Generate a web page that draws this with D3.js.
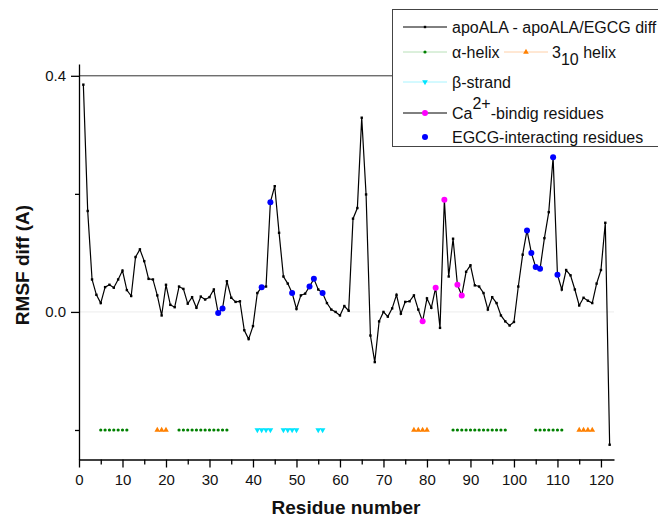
<!doctype html>
<html>
<head>
<meta charset="utf-8">
<style>
  body { margin: 0; background: #fff; }
  svg text { font-family: "Liberation Sans", Arial, Helvetica, sans-serif; fill: #111; }
  .axis path, .axis line { stroke: #000; stroke-width: 1.3px; }
  .axis text { font-size: 15px; }
</style>
</head>
<body>
<svg id="chart" width="658" height="518"></svg>
<script src="https://d3js.org/d3.v7.min.js"></script>
<script>
// RMSF difference per residue (residue = index + 1)
var rmsfDiff = [
  0.385, 0.171, 0.055, 0.029, 0.015, 0.042, 0.046, 0.041, 0.055, 0.070,
  0.037, 0.027, 0.093, 0.106, 0.086, 0.056, 0.055, 0.028, -0.006, 0.046,
  0.012, 0.008, 0.043, 0.039, 0.014, 0.025, 0.007, 0.026, 0.021, 0.025,
  0.038, -0.002, 0.006, 0.052, 0.024, 0.017, 0.018, -0.031, -0.046, -0.024,
  0.032, 0.042, 0.043, 0.186, 0.213, 0.134, 0.060, 0.048, 0.032, 0.005,
  0.028, 0.031, 0.043, 0.056, 0.038, 0.032, 0.015, 0.004, 0.000, -0.006,
  0.010, 0.002, 0.158, 0.176, 0.329, 0.199, -0.040, -0.085, -0.016, 0.000,
  -0.008, 0.006, 0.029, -0.003, 0.017, 0.018, 0.028, 0.004, -0.016, 0.023,
  0.007, 0.041, -0.027, 0.190, 0.060, 0.124, 0.046, 0.028, 0.068, 0.079,
  0.045, 0.043, 0.032, 0.004, 0.025, 0.015, -0.006, -0.016, -0.023, -0.017,
  0.043, 0.097, 0.138, 0.100, 0.076, 0.073, 0.125, 0.169, 0.262, 0.063,
  0.038, 0.071, 0.062, 0.038, 0.011, 0.024, 0.019, 0.015, 0.048, 0.071,
  0.151, -0.225
];

var caBinding = [79, 82, 84, 87, 88];
var egcgResidues = [32, 33, 42, 44, 49, 53, 54, 56, 103, 104, 105, 106, 109, 110];

// secondary structure, drawn on the -0.2 row
var ssLevel = -0.2;
var alphaHelix = [5, 6, 7, 8, 9, 10, 11,
  23, 24, 25, 26, 27, 28, 29, 30, 31, 32, 33, 34,
  86, 87, 88, 89, 90, 91, 92, 93, 94, 95, 96, 97, 98,
  105, 106, 107, 108, 109, 110, 111];
var helix310 = [18, 19, 20, 77, 78, 79, 80, 115, 116, 117, 118];
var betaStrand = [41, 42, 43, 44, 47, 48, 49, 50, 55, 56];

var refLines = [0.4, 0.0];

var xMajor = [0, 10, 20, 30, 40, 50, 60, 70, 80, 90, 100, 110, 120];
var xMinor = [5, 15, 25, 35, 45, 55, 65, 75, 85, 95, 105, 115];
var yMajor = [0.0, 0.4];
var yMinor = [-0.2, 0.2];

var svg = d3.select('#chart');

var x = d3.scaleLinear().domain([0, 123]).range([79, 614]),
    y = d3.scaleLinear().domain([-0.25, 0.42]).range([459.5, 64]);

var data = rmsfDiff.map(function(v, i){ return {res: i + 1, v: v}; });
function valueAt(r){ return rmsfDiff[r - 1]; }

// reference lines
svg.append('line')
  .attr('x1', x(0)).attr('x2', x(123))
  .attr('y1', y(refLines[1])).attr('y2', y(refLines[1]))
  .style('stroke', '#ececec').style('stroke-width', 1);
svg.append('line')
  .attr('x1', x(0)).attr('x2', x(123))
  .attr('y1', y(refLines[0])).attr('y2', y(refLines[0]))
  .style('stroke', '#333').style('stroke-width', 1);

// axes
svg.append('g').attr('class', 'axis').attr('transform', 'translate(0,459.5)')
  .call(d3.axisBottom(x).tickValues(xMajor).tickSize(8).tickSizeOuter(0).tickPadding(7));
svg.append('g').attr('class', 'axis').attr('transform', 'translate(0,459.5)')
  .call(d3.axisBottom(x).tickValues(xMinor).tickSize(5).tickSizeOuter(0).tickFormat(''))
  .select('.domain').remove();
svg.append('g').attr('class', 'axis').attr('transform', 'translate(79,0)')
  .call(d3.axisLeft(y).tickValues(yMajor).tickSize(8).tickSizeOuter(0).tickPadding(5).tickFormat(d3.format('.1f')));
svg.append('g').attr('class', 'axis').attr('transform', 'translate(79,0)')
  .call(d3.axisLeft(y).tickValues(yMinor).tickSize(4).tickSizeOuter(0).tickFormat(''))
  .select('.domain').remove();

// axis titles
svg.append('text').attr('x', 346).attr('y', 514).style('text-anchor', 'middle')
  .style('font-size', '19px').style('font-weight', 'bold').text('Residue number');
svg.append('text').attr('transform', 'translate(29,265) rotate(-90)').style('text-anchor', 'middle')
  .style('font-size', '19px').style('font-weight', 'bold').text('RMSF diff (A)');

// secondary structure rows
svg.append('g').selectAll('circle').data(alphaHelix).enter().append('circle')
  .attr('cx', function(d){ return x(d); }).attr('cy', y(ssLevel)).attr('r', 1.6)
  .style('fill', '#008000');
var tri = d3.symbol().type(d3.symbolTriangle).size(14);
svg.append('g').selectAll('path').data(helix310).enter().append('path')
  .attr('d', tri)
  .attr('transform', function(d){ return 'translate(' + x(d) + ',' + y(ssLevel) + ')'; })
  .style('fill', '#ff8000');
svg.append('g').selectAll('path').data(betaStrand).enter().append('path')
  .attr('d', tri)
  .attr('transform', function(d){ return 'translate(' + x(d) + ',' + y(ssLevel) + ') rotate(180)'; })
  .style('fill', '#00e5ff');

// main series
var line = d3.line().x(function(d){ return x(d.res); }).y(function(d){ return y(d.v); });
svg.append('path').datum(data).attr('d', line)
  .style('fill', 'none').style('stroke', '#000').style('stroke-width', 1.2);
svg.append('g').selectAll('rect').data(data).enter().append('rect')
  .attr('x', function(d){ return x(d.res) - 1.2; })
  .attr('y', function(d){ return y(d.v) - 1.2; })
  .attr('width', 2.4).attr('height', 2.4)
  .style('fill', '#000');

svg.append('g').selectAll('circle').data(caBinding).enter().append('circle')
  .attr('cx', function(d){ return x(d); }).attr('cy', function(d){ return y(valueAt(d)); })
  .attr('r', 3).style('fill', '#ff00ff');
svg.append('g').selectAll('circle').data(egcgResidues).enter().append('circle')
  .attr('cx', function(d){ return x(d); }).attr('cy', function(d){ return y(valueAt(d)); })
  .attr('r', 3).style('fill', '#0000ff');

// legend
var lg = svg.append('g').style('font-size', '16px');
lg.append('rect').attr('x', 392.5).attr('y', 9.5).attr('width', 300).attr('height', 137)
  .style('fill', '#fff').style('stroke', '#444').style('stroke-width', 1);

function sample(g, x0, yy, lineColor, drawMark){
  if (lineColor) g.append('line').attr('x1', x0).attr('x2', x0 + 44).attr('y1', yy).attr('y2', yy)
    .style('stroke', lineColor).style('stroke-width', 1);
  drawMark(g, x0 + 22, yy);
}
function label(g, x0, yy){
  return g.append('text').attr('x', x0).attr('y', yy + 5.5);
}

sample(lg, 403, 27, '#000', function(g, cx, cy){
  g.append('rect').attr('x', cx - 1.2).attr('y', cy - 1.2).attr('width', 2.4).attr('height', 2.4).style('fill', '#000');
});
label(lg, 452, 27).text('apoALA - apoALA/EGCG diff');

sample(lg, 403, 52, '#b8e0b8', function(g, cx, cy){
  g.append('circle').attr('cx', cx).attr('cy', cy).attr('r', 1.6).style('fill', '#008000');
});
label(lg, 452, 52).text('\u03b1-helix');
sample(lg, 504, 52, '#ffd0a8', function(g, cx, cy){
  g.append('path').attr('d', tri).attr('transform', 'translate(' + cx + ',' + cy + ')').style('fill', '#ff8000');
});
var t310 = label(lg, 552, 52);
t310.append('tspan').text('3');
t310.append('tspan').attr('dy', 7).text('10');
t310.append('tspan').attr('dy', -7).text(' helix');

sample(lg, 403, 82, '#a8f4ff', function(g, cx, cy){
  g.append('path').attr('d', tri).attr('transform', 'translate(' + cx + ',' + cy + ') rotate(180)').style('fill', '#00e5ff');
});
label(lg, 452, 82).text('\u03b2-strand');

sample(lg, 403, 113, '#000', function(g, cx, cy){
  g.append('circle').attr('cx', cx).attr('cy', cy).attr('r', 3).style('fill', '#ff00ff');
});
var tca = label(lg, 452, 113);
tca.append('tspan').text('Ca');
tca.append('tspan').attr('dy', -10).text('2+');
tca.append('tspan').attr('dy', 10).text('-bindig residues');

sample(lg, 403, 137, null, function(g, cx, cy){
  g.append('circle').attr('cx', cx).attr('cy', cy).attr('r', 3).style('fill', '#0000ff');
});
label(lg, 452, 137).text('EGCG-interacting residues');
</script>
</body>
</html>
